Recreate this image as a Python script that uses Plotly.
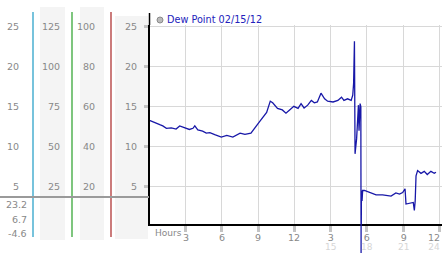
import plotly.graph_objects as go

W, H = 442, 253

# ---------------- data ----------------
series_name = "Dew Point 02/15/12"
hours = [0.0, 0.4, 0.85, 1.1, 1.4, 1.8, 2.2, 2.5, 2.9, 3.3, 3.6, 3.75, 4.0, 4.4, 4.7, 5.0,
         5.4, 5.95, 6.4, 6.9, 7.5, 7.9, 8.4, 8.7, 9.1, 9.7, 10.0, 10.2, 10.6, 11.0, 11.3,
         11.6, 11.95, 12.3, 12.55, 12.8, 13.1, 13.4, 13.65, 13.9, 14.2, 14.5, 14.75, 15.2,
         15.6, 15.9, 16.1, 16.4, 16.7, 16.83, 16.9, 16.97, 17.0, 17.02, 17.15, 17.3, 17.35,
         17.44, 17.5, 17.52, 17.55, 17.6, 17.65, 17.8, 18.2, 18.76, 19.3, 20.0, 20.4, 20.7,
         20.96, 21.16, 21.24, 21.65, 21.84, 21.93, 22.0, 22.07, 22.2, 22.48, 22.75, 23.0,
         23.3, 23.58, 23.72]
dew_point = [13.3, 13.0, 12.75, 12.6, 12.3, 12.35, 12.2, 12.6, 12.35, 12.15, 12.3, 12.6, 12.1,
             11.95, 11.7, 11.75, 11.5, 11.2, 11.4, 11.2, 11.7, 11.55, 11.7, 12.35, 13.1, 14.3,
             15.7, 15.5, 14.8, 14.6, 14.2, 14.6, 15.05, 14.8, 15.4, 14.85, 15.2, 15.8, 15.5,
             15.6, 16.7, 16.0, 15.7, 15.6, 15.8, 16.2, 15.8, 16.0, 15.8, 16.45, 17.9, 23.2,
             16.0, 9.1, 11.0, 15.2, 12.0, 15.4, 15.0, -4.6, 4.5, 3.2, 4.5, 4.5, 4.25, 3.95,
             3.95, 3.8, 4.2, 4.05, 4.25, 4.7, 2.8, 2.9, 3.0, 2.0, 3.2, 6.35, 7.0, 6.65, 6.9,
             6.5, 6.9, 6.65, 6.8]

y_ticks = [25, 20, 15, 10, 5]
col1_labels = ["25", "20", "15", "10", "5"]
col2_labels = ["125", "100", "75", "50", "25"]
col3_labels = ["100", "80", "60", "40", "20"]
col4_labels = ["25", "20", "15", "10", "5"]
stat_labels = ["23.2", "6.7", "-4.6"]

x_ticks = [3, 6, 9, 12, 15, 18, 21, 24]
x_tick_labels = ["3", "6", "9", "12", "3", "6", "9", "12"]
x_day2_labels = ["", "", "", "", "15", "18", "21", "24"]

# ---------------- layout geometry ----------------
def px(x):
    return x / W

def py(y):
    return 1 - y / H

X_RANGE = [0, 24.22]
Y_RANGE = [0.3, 25.25]
x_dom = [px(149.5), 1.0]
y_dom = [py(224), py(25)]

LINE_COLOR = "#1818a8"
GRAY_TXT = "#888888"
FONT = "DejaVu Sans"

fig = go.Figure()
fig.add_trace(go.Scatter(x=hours, y=dew_point, mode="lines",
                         line=dict(color=LINE_COLOR, width=1.3),
                         name=series_name, showlegend=False, hoverinfo="skip"))

shapes = []
annotations = []

# left panel column backgrounds
for x0, x1, y0, y1 in [(40, 65, 7, 240), (80, 104, 7, 240), (115, 148, 16, 239)]:
    shapes.append(dict(type="rect", xref="paper", yref="paper", x0=px(x0), x1=px(x1),
                       y0=py(y1), y1=py(y0), fillcolor="#f4f4f4", line=dict(width=0),
                       layer="below"))

# coloured scale lines
for xc, col in [(33, "#2ea3c9"), (72, "#3aa83a"), (111, "#b03535")]:
    shapes.append(dict(type="line", xref="paper", yref="paper", x0=px(xc), x1=px(xc),
                       y0=py(237), y1=py(12), line=dict(color=col, width=1.3)))

# gray separator
shapes.append(dict(type="line", xref="paper", yref="paper", x0=0, x1=px(149),
                   y0=py(197), y1=py(197), line=dict(color="#9a9a9a", width=2)))

# y axis line extension above plot
shapes.append(dict(type="line", xref="paper", yref="paper", x0=px(149.5), x1=px(149.5),
                   y0=py(25), y1=py(13), line=dict(color="black", width=1.5)))

# dip below axis (lines are clipped by plotly, the original is not)
imin = dew_point.index(min(dew_point))
xf = (hours[imin] - X_RANGE[0]) / (X_RANGE[1] - X_RANGE[0])
yf = (dew_point[imin] - Y_RANGE[0]) / (Y_RANGE[1] - Y_RANGE[0])
shapes.append(dict(type="line", xref="x domain", yref="y domain", x0=xf, x1=xf,
                   y0=0, y1=yf, line=dict(color=LINE_COLOR, width=1.3)))

# legend marker
shapes.append(dict(type="circle", xref="paper", yref="paper", x0=px(157), x1=px(163),
                   y0=py(23), y1=py(17), fillcolor="#bbbbbb",
                   line=dict(color="#8a8a8a", width=1)))
annotations.append(dict(text=series_name, xref="paper", yref="paper", x=px(165.5), y=py(20),
                        xanchor="left", yanchor="middle", showarrow=False, borderpad=0,
                        font=dict(family=FONT, size=9.7, color="#2222bb")))

def lab(text, xr, yv, yref="y", size=9.5, color=GRAY_TXT, anchor="right", yanchor="middle"):
    annotations.append(dict(text=text, xref="paper", yref=yref, x=xr, y=yv,
                            xanchor=anchor, yanchor=yanchor, showarrow=False, borderpad=0,
                            font=dict(family=FONT, size=size, color=color)))

for v, a, b, c, d in zip(y_ticks, col1_labels, col2_labels, col3_labels, col4_labels):
    lab(a, px(20), v)
    lab(b, px(61), v)
    lab(c, px(96), v)
    lab(d, px(138), v)

for s, yy in zip(stat_labels, [204, 219, 233]):
    lab(s, px(27.5), py(yy), yref="paper")

# x tick labels (with the second-day hour row in faint gray beneath)
for t, l1, l2 in zip(x_ticks, x_tick_labels, x_day2_labels):
    xr = x_dom[0] + (t - X_RANGE[0]) / (X_RANGE[1] - X_RANGE[0]) * (x_dom[1] - x_dom[0])
    txt = f"<span style='font-size:9.5px'>{l1}</span>"
    if l2:
        txt += f"<br><span style='font-size:9px;color:#d6d6d6'>{l2}</span>"
    anchor = "center"
    if xr > px(436):
        xr, anchor = px(441), "right"
    lab(txt, xr, py(231), yref="paper", size=7, anchor=anchor, yanchor="top")

lab("Hours", px(153.5), py(232.5), yref="paper", size=9, anchor="left")

fig.update_layout(
    width=W, height=H, margin=dict(l=0, r=0, t=0, b=0),
    paper_bgcolor="white", plot_bgcolor="white",
    showlegend=False,
    xaxis=dict(domain=x_dom, range=X_RANGE, tickvals=x_ticks, showticklabels=False,
               ticks="outside", ticklen=6, tickwidth=3, tickcolor="#c4c4c4",
               showgrid=True, gridcolor="#d8d8d8", gridwidth=1,
               showline=True, linecolor="black", linewidth=1.5, zeroline=False, fixedrange=True),
    yaxis=dict(domain=y_dom, range=Y_RANGE, tickvals=y_ticks, showticklabels=False,
               ticks="outside", ticklen=4, tickwidth=3, tickcolor="#c4c4c4",
               showgrid=True, gridcolor="#d8d8d8", gridwidth=1,
               showline=True, linecolor="black", linewidth=1.5, zeroline=False, fixedrange=True),
    shapes=shapes, annotations=annotations,
)

fig.write_html("out.html", config={"displayModeBar": False})
